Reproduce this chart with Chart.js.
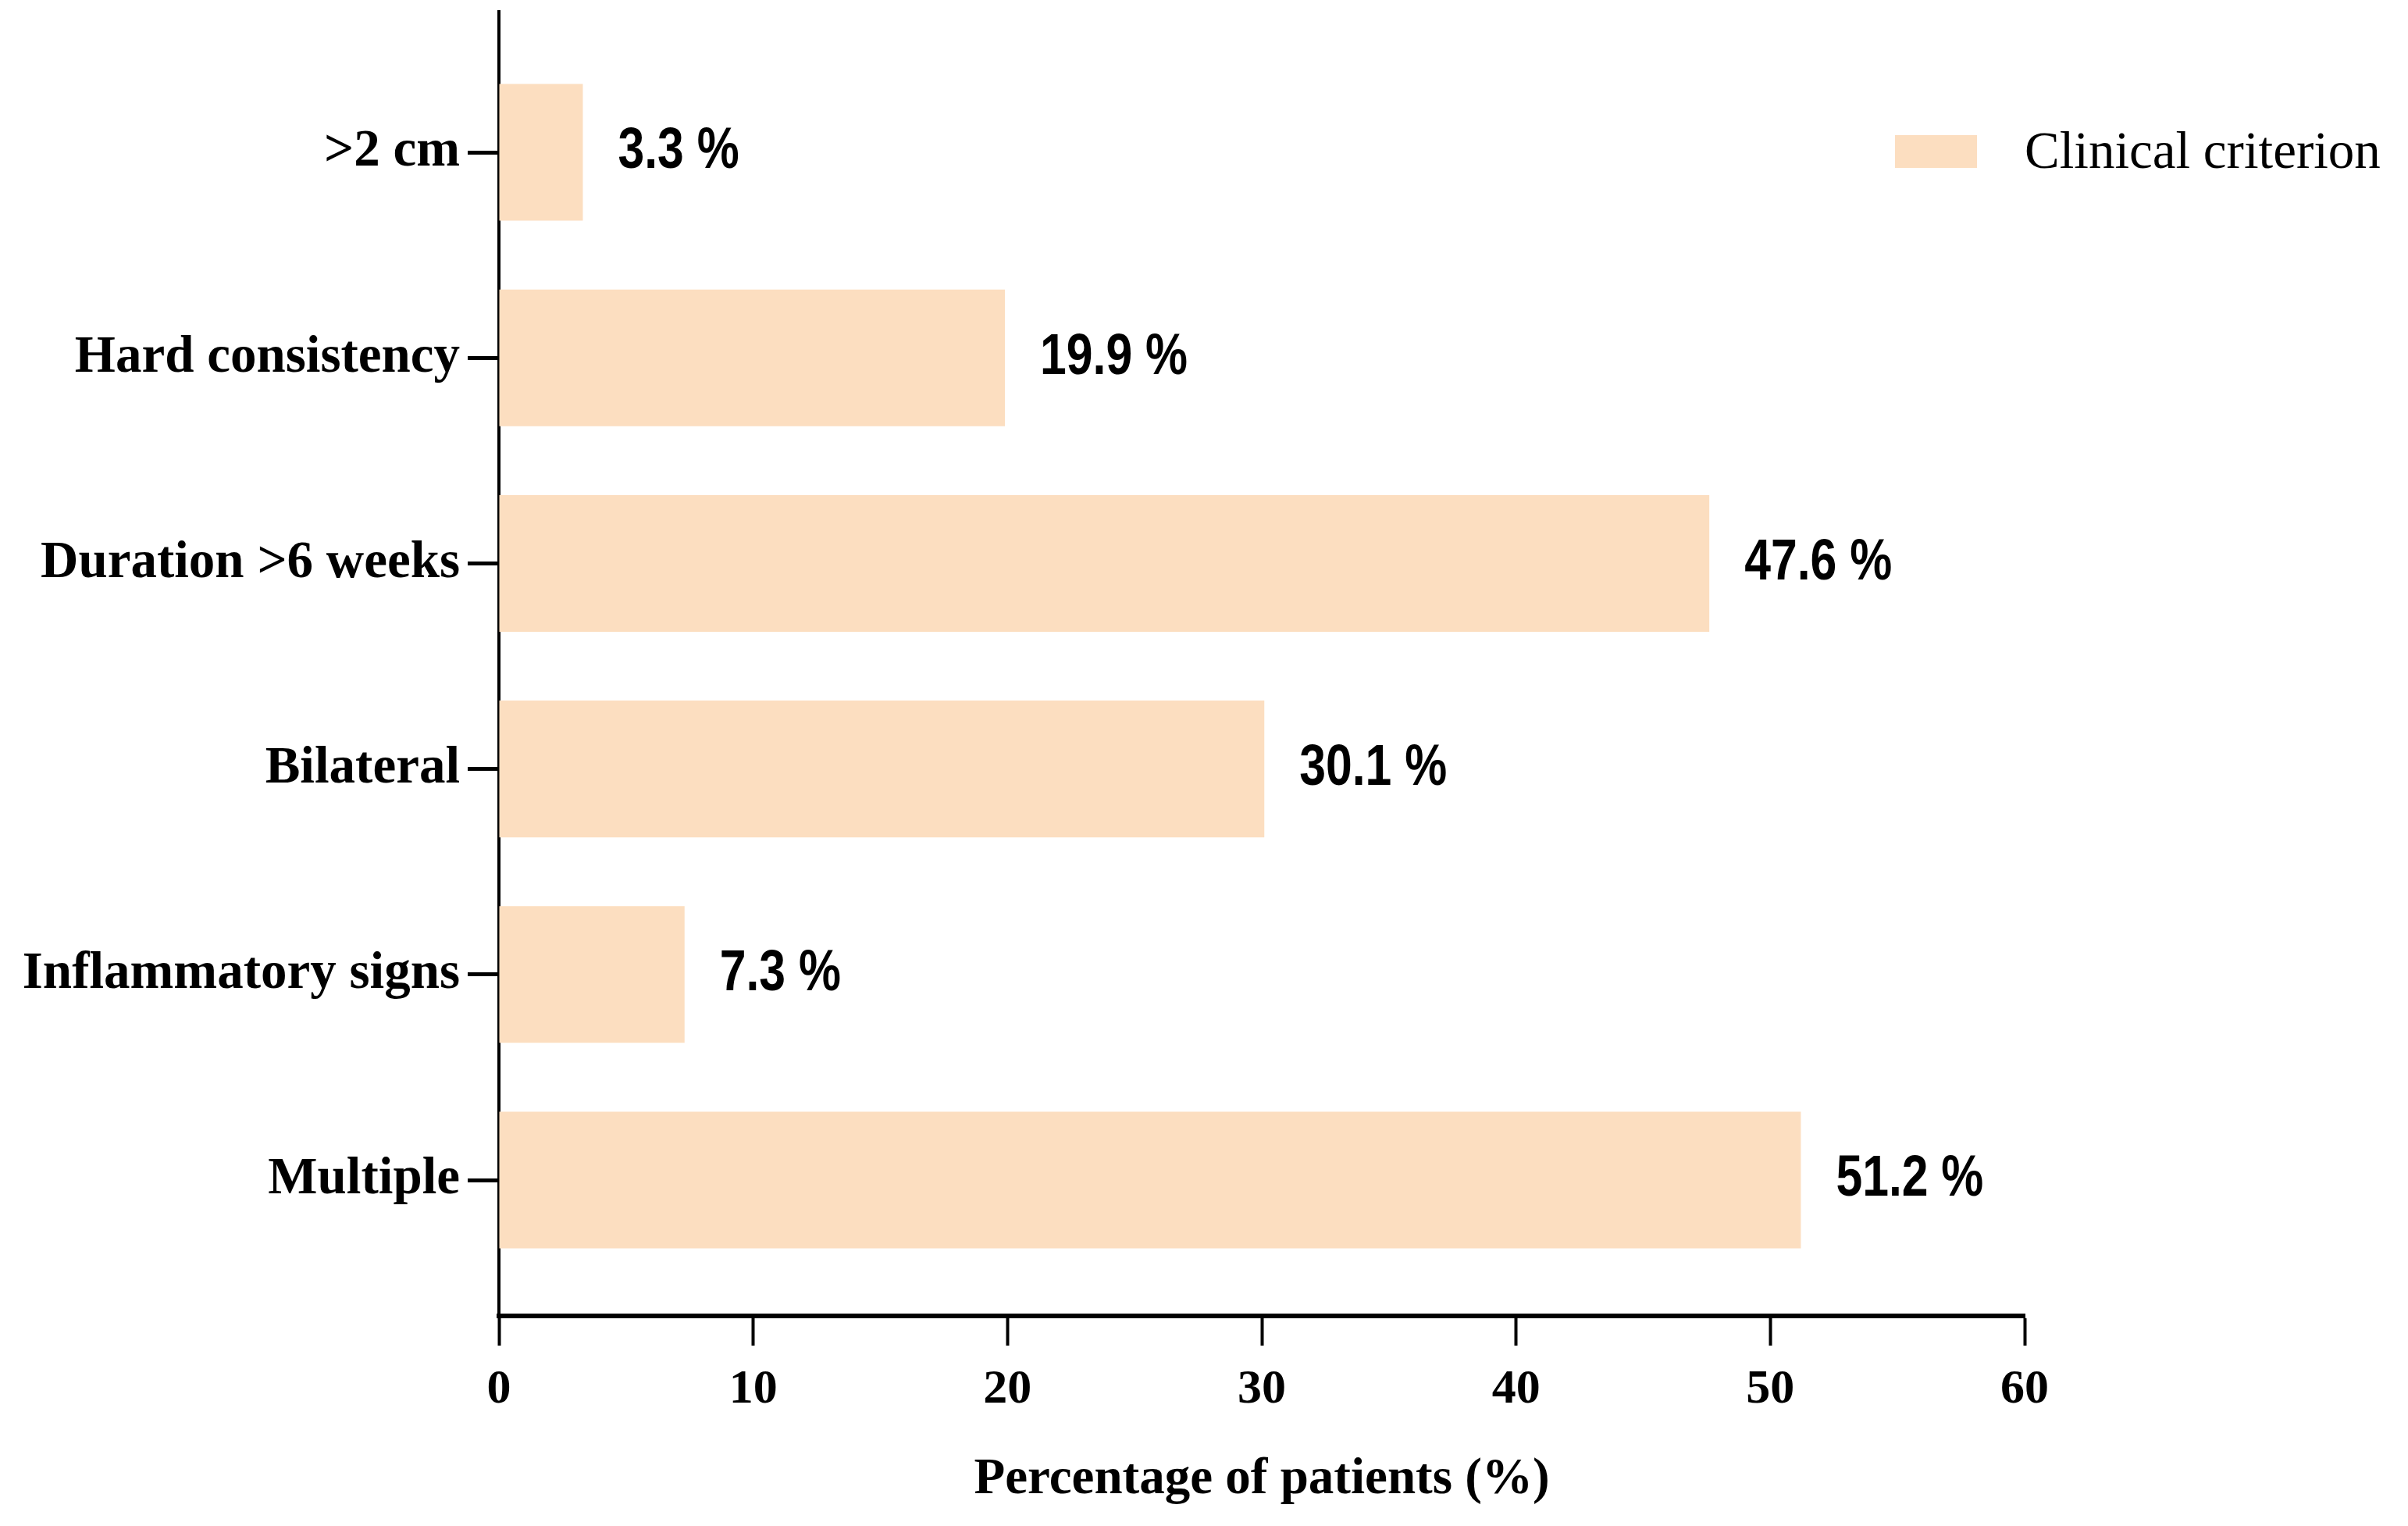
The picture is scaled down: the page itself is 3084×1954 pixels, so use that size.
<!DOCTYPE html>
<html>
<head>
<meta charset="utf-8">
<script src="https://cdn.jsdelivr.net/npm/chart.js@4.4.1/dist/chart.umd.min.js"></script>
<style>
  html, body { margin: 0; padding: 0; background: #fff; }
  #wrap { width: 3084px; height: 1954px; }
</style>
</head>
<body>
<div id="wrap"><canvas id="chart" width="3084" height="1954"></canvas></div>
<script>
// données
var categories = [">2 cm", "Hard consistency", "Duration >6 weeks", "Bilateral", "Inflammatory signs", "Multiple"];
var percentages = [3.3, 19.9, 47.6, 30.1, 7.3, 51.2];
var xTicks = [0, 10, 20, 30, 40, 50, 60];
var seriesName = "Clinical criterion";
var barColor = "#FCDEC0";

var serif = "'Liberation Serif', 'Times New Roman', serif";
var sans = "'Liberation Sans', Arial, sans-serif";

// l'axe des catégories est linéaire pour laisser de la marge au-dessus et au-dessous
var points = percentages.map(function(v, i) {
  return { x: v, y: i };
});

// étiquettes "xx.x %" à droite de chaque barre (police étroite simulée)
var valueLabels = {
  id: "valueLabels",
  afterDatasetsDraw: function(chart) {
    var ctx = chart.ctx;
    var meta = chart.getDatasetMeta(0);
    var squeeze = 0.82;
    ctx.save();
    ctx.fillStyle = "#000";
    ctx.font = "bold 74px " + sans;
    ctx.textBaseline = "middle";
    ctx.textAlign = "left";
    meta.data.forEach(function(bar, i) {
      ctx.save();
      ctx.translate(bar.x + 45, bar.y);
      ctx.scale(squeeze, 1);
      ctx.fillText(percentages[i].toFixed(1) + " %", 0, 0);
      ctx.restore();
    });
    ctx.restore();
  }
};

// légende dessinée à la main, à droite de la zone du graphique
var sideLegend = {
  id: "sideLegend",
  afterDraw: function(chart) {
    var ctx = chart.ctx;
    var area = chart.chartArea;
    var yMid = chart.scales.y.getPixelForValue(0);
    ctx.save();
    ctx.fillStyle = barColor;
    ctx.fillRect(area.right - 166, yMid - 22, 105, 42);
    ctx.fillStyle = "#000";
    ctx.font = "67px " + serif;
    ctx.textBaseline = "middle";
    ctx.fillText(chart.data.datasets[0].label, area.right, yMid + 2);
    ctx.restore();
  }
};

var chart = new Chart(document.getElementById("chart").getContext("2d"), {
  type: "bar",
  data: {
    datasets: [{
      label: seriesName,
      data: points,
      backgroundColor: barColor,
      borderWidth: 0,
      barPercentage: 0.665,
      categoryPercentage: 1
    }]
  },
  options: {
    indexAxis: "y",
    responsive: false,
    devicePixelRatio: 1,
    animation: false,
    layout: { padding: { left: 0, right: 491, top: 15, bottom: 0 } },
    plugins: {
      legend: { display: false },
      tooltip: { enabled: false }
    },
    scales: {
      x: {
        type: "linear",
        min: 0,
        max: 60,
        afterBuildTicks: function(scale) {
          scale.ticks = xTicks.map(function(v) { return { value: v }; });
        },
        afterFit: function(scale) {
          scale.height = 269;
        },
        ticks: {
          color: "#000",
          font: { family: serif, size: 62, weight: "bold" },
          padding: 20
        },
        grid: { drawOnChartArea: false, tickLength: 38, tickWidth: 4, tickColor: "#000" },
        border: { color: "#000", width: 6 },
        title: {
          display: true,
          text: "Percentage of patients (%)",
          color: "#000",
          font: { family: serif, size: 65, weight: "bold" },
          padding: { top: 0, bottom: 20 }
        }
      },
      y: {
        type: "linear",
        reverse: true,
        offset: false,
        min: -0.684,
        max: 5.661,
        afterBuildTicks: function(scale) {
          scale.ticks = categories.map(function(c, i) { return { value: i }; });
        },
        afterFit: function(scale) {
          scale.width = 639;
          scale.paddingTop = 0;
          scale.paddingBottom = 0;
        },
        ticks: {
          color: "#000",
          font: { family: serif, size: 67, weight: "bold" },
          padding: 10,
          autoSkip: false,
          callback: function(v) { return categories[v]; }
        },
        grid: { offset: false, drawOnChartArea: false, tickLength: 40, tickWidth: 5, tickColor: "#000" },
        border: { color: "#000", width: 4 }
      }
    }
  },
  plugins: [valueLabels, sideLegend]
});
</script>
</body>
</html>
